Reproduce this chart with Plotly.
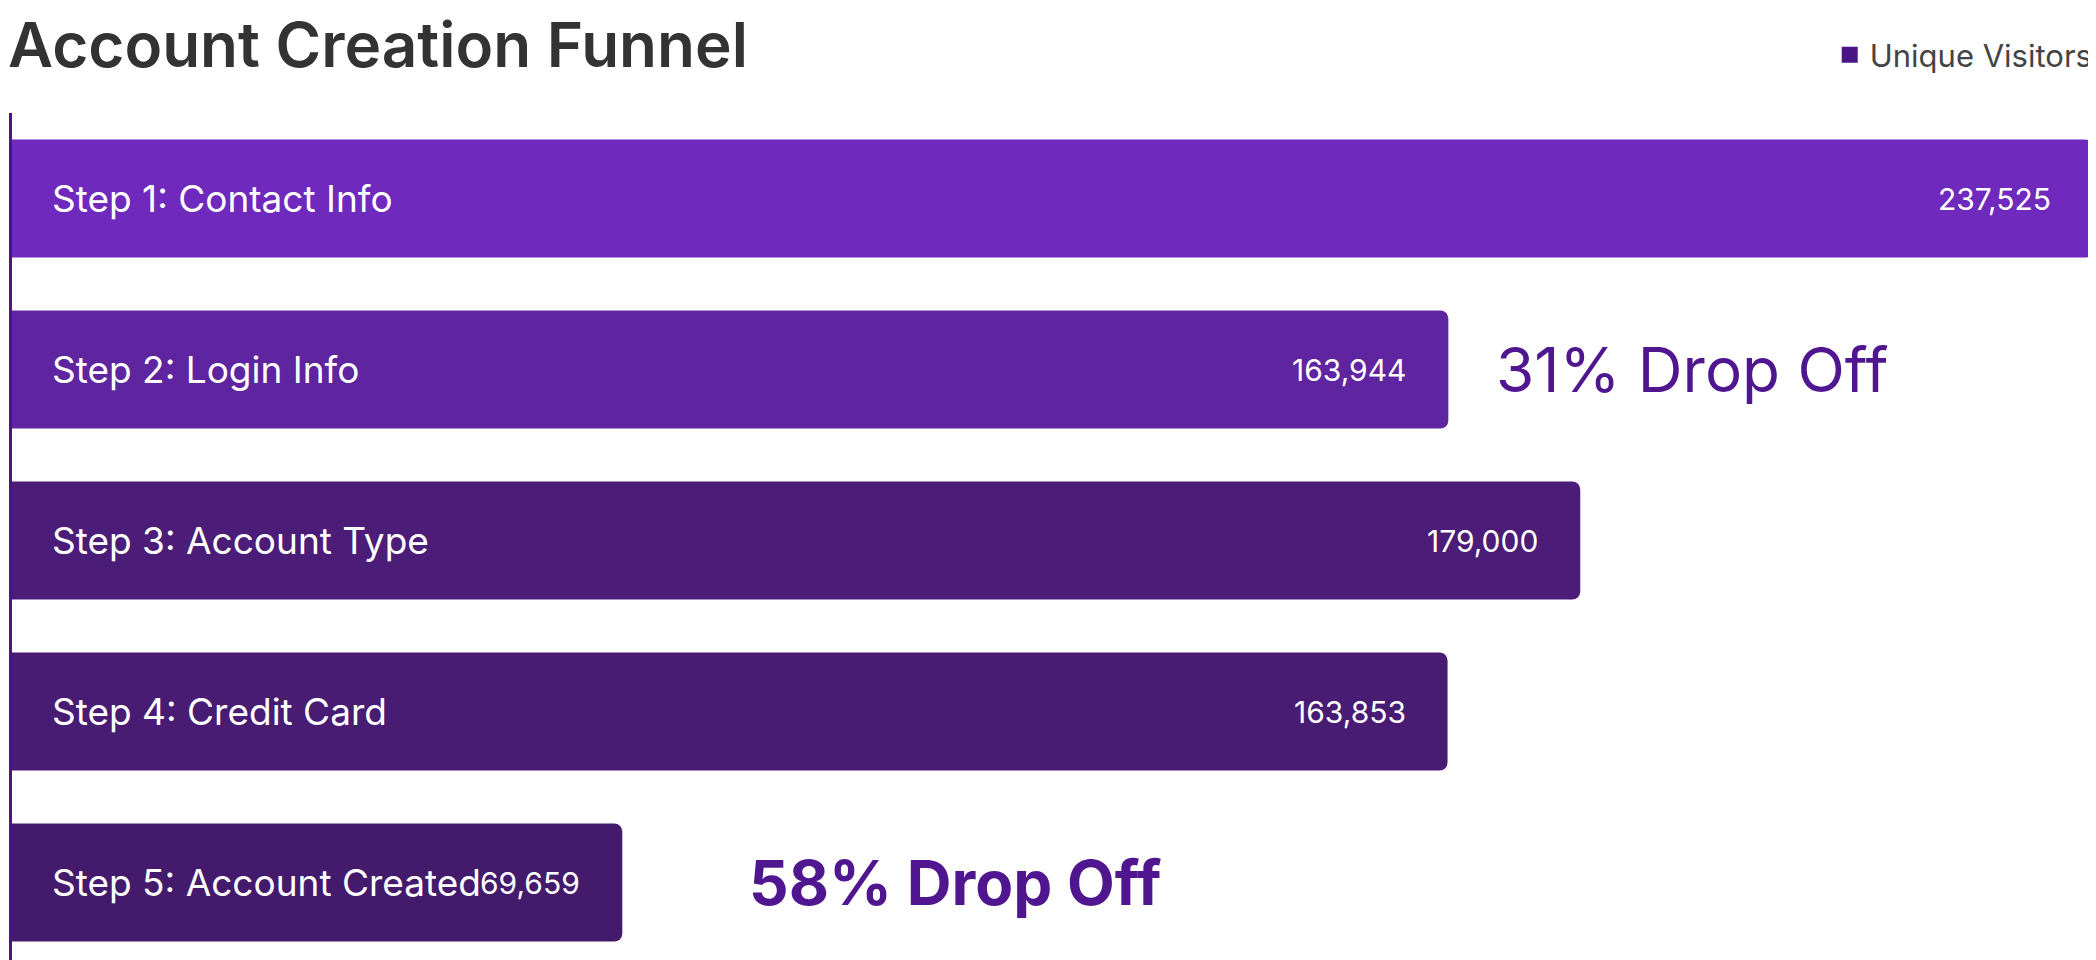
import plotly.graph_objects as go

steps = ["Step 1: Contact Info", "Step 2: Login Info", "Step 3: Account Type",
         "Step 4: Credit Card", "Step 5: Account Created"]
visitors = [237525, 163944, 179000, 163853, 69659]
colors = ["#7029bd", "#5f249f", "#4b1d78", "#491c74", "#441a6c"]
drops = [("31% Drop Off", 1, 163944, "normal"), ("58% Drop Off", 4, 69659, "bold")]

fig = go.Figure()
fig.add_trace(go.Bar(
    x=visitors, y=list(range(len(steps))), orientation="h",
    marker=dict(color=colors, line_width=0), width=0.69,
    showlegend=False, hoverinfo="skip"))
fig.add_trace(go.Scatter(x=[None], y=[None], mode="markers", name="Unique Visitors",
                         marker=dict(symbol="square", size=30, color="#4a1585")))

F = "Inter, Roboto, sans-serif"
for i, (s, v) in enumerate(zip(steps, visitors)):
    fig.add_annotation(x=0, y=i, text=s, xanchor="left", xshift=38, showarrow=False,
                       font=dict(family=F, size=37, color="white"))
    fig.add_annotation(x=v, y=i, text=f"{v:,}", xanchor="right", xshift=-40, showarrow=False,
                       font=dict(family=F, size=30, color="white"))
for t, i, v, w in drops:
    fig.add_annotation(x=v, y=i, text=t, xanchor="left", xshift=(46 if w == "normal" else 125),
                       showarrow=False, font=dict(family=F, size=62, color="#4f1690", weight=w))

fig.update_layout(
    width=2096, height=960, plot_bgcolor="white", paper_bgcolor="white",
    margin=dict(l=4, r=4, t=105, b=0, autoexpand=False), barcornerradius=8,
    title=dict(text="Account Creation Funnel", x=0, xref="container", xanchor="left",
               y=1 - 37 / 960, yref="container", yanchor="middle",
               font=dict(family=F, size=62, color="#333333", weight=600)),
    xaxis=dict(range=[0, 238324], visible=False),
    yaxis=dict(range=[4.5, -0.5], showticklabels=False, showgrid=False, zeroline=False,
               showline=True, linecolor="#4a1585", linewidth=3),
    legend=dict(xref="container", yref="container", x=0.997, y=1 - 47 / 960,
                xanchor="right", yanchor="middle", font=dict(family=F, size=31, color="#444")),
)
fig.write_html("out.html")
